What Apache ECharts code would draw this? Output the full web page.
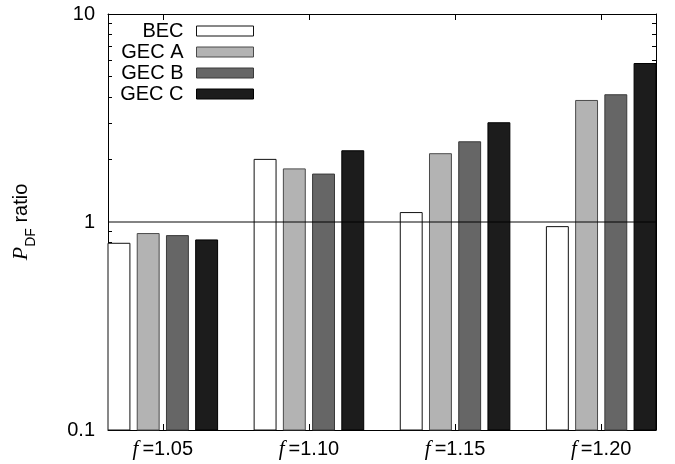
<!DOCTYPE html>
<html>
<head>
<meta charset="utf-8">
<title>PDF ratio</title>
<script src="https://cdn.jsdelivr.net/npm/echarts@6/dist/echarts.min.js"></script>
<style>
  html, body { margin: 0; padding: 0; background: #fff; }
  #chart { width: 675px; height: 464px; }
</style>
</head>
<body>
<div id="chart"></div>
<script>
// data
const categories = ['1.05', '1.10', '1.15', '1.20']
const seriesNames = ['BEC', 'GEC A', 'GEC B', 'GEC C']
const becValues = [0.79, 2.00, 1.11, 0.95]
const gecAValues = [0.88, 1.80, 2.13, 3.84]
const gecBValues = [0.86, 1.70, 2.43, 4.09]
const gecCValues = [0.82, 2.20, 3.00, 5.78]
const yLabelValues = [0.1, 1, 10]
const minorMultipliers = [2, 3, 4, 5, 6, 7, 8, 9]

const fills = ['#ffffff', '#b3b3b3', '#666666', '#1c1c1c']
const borders = ['#111111', '#4a4a4a', '#3a3a3a', '#000000']
const font = 'Liberation Sans, Arial, sans-serif'
const serif = 'Liberation Serif, Times New Roman, serif'

// minor ticks of the log axis, placed on a linear axis in decade units
const minorTickPos = []
;[-1, 0].forEach(d => minorMultipliers.forEach(m => minorTickPos.push(Math.log10(m) + d)))

const chart = echarts.init(document.getElementById('chart'), null, { renderer: 'canvas' })

function makeRenderItem(slot) {
  return function (params, api) {
    const top = api.coord([api.value(0), api.value(1)])
    const base = api.coord([api.value(0), 0.1])
    const band = api.size([1, 0])[0]
    const w = band * 0.15
    const cx = top[0] + (slot - 1.5) * band * 0.2
    return {
      type: 'rect',
      shape: { x: cx - w / 2, y: top[1], width: w, height: base[1] - top[1] },
      style: api.style()
    }
  }
}

const allValues = [becValues, gecAValues, gecBValues, gecCValues]

const gridRect = { left: 108, right: 19, top: 14, bottom: 34, outerBoundsMode: 'none' }
const blackLine = { show: true, onZero: false, lineStyle: { color: '#000', width: 1 } }

const option = {
  animation: false,
  backgroundColor: '#fff',
  grid: [Object.assign({}, gridRect), Object.assign({}, gridRect)],
  legend: {
    orient: 'vertical',
    align: 'right',
    right: 421,
    top: 21,
    padding: 0,
    itemWidth: 57,
    itemHeight: 10,
    itemGap: 1,
    icon: 'rect',
    textStyle: { fontFamily: font, fontSize: 20, color: '#000', lineHeight: 20, padding: [0, 8, 0, 0] },
    data: seriesNames.map((n, i) => ({
      name: n,
      itemStyle: { color: fills[i], borderColor: borders[i], borderWidth: 1 }
    }))
  },
  xAxis: [
    {
      type: 'value', gridIndex: 0, position: 'bottom',
      min: -0.375, max: 3.375,
      axisLine: blackLine,
      splitLine: { show: false },
      axisTick: { show: true, inside: true, length: 6, customValues: [0, 1, 2, 3], lineStyle: { color: '#000' } },
      axisLabel: {
        show: true, customValues: [0, 1, 2, 3], margin: 9,
        fontFamily: font, fontSize: 20, color: '#000',
        formatter: v => '{i|f}=' + categories[v],
        rich: { i: { fontFamily: serif, fontStyle: 'italic', fontSize: 21, color: '#000', padding: [0, 4, 0, 0] } }
      }
    },
    {
      type: 'value', gridIndex: 0, position: 'top',
      min: -0.375, max: 3.375,
      axisLine: blackLine,
      splitLine: { show: false },
      axisTick: { show: true, inside: true, length: 6, customValues: [0, 1, 2, 3], lineStyle: { color: '#000' } },
      axisLabel: { show: false }
    },
    {
      type: 'value', gridIndex: 1, min: -0.375, max: 3.375, show: false
    }
  ],
  yAxis: [
    {
      type: 'log', logBase: 10, gridIndex: 0, position: 'left',
      min: 0.1, max: 10,
      axisLine: blackLine,
      axisTick: { show: false },
      splitLine: { show: false },
      axisLabel: {
        margin: 13, fontFamily: font, fontSize: 20, color: '#000',
        formatter: v => {
          const hit = yLabelValues.find(t => Math.abs(t - v) < 1e-9)
          return hit === undefined ? '' : String(hit)
        }
      },
      name: '{p|P}{s|DF} ratio',
      nameLocation: 'middle',
      nameGap: 70,
      nameTextStyle: {
        fontFamily: font, fontSize: 20, color: '#000', lineHeight: 34,
        rich: {
          p: { fontFamily: serif, fontStyle: 'italic', fontSize: 22, color: '#000', lineHeight: 34 },
          s: { fontFamily: font, fontSize: 14, color: '#000', verticalAlign: 'bottom', lineHeight: 34 }
        }
      }
    },
    {
      type: 'value', gridIndex: 0, position: 'right',
      min: -1, max: 1,
      axisLine: blackLine,
      splitLine: { show: false },
      axisTick: { show: true, inside: true, length: 4, customValues: minorTickPos, lineStyle: { color: '#000' } },
      axisLabel: { show: false }
    },
    {
      type: 'value', gridIndex: 1, position: 'left',
      min: -1, max: 1,
      axisLine: { show: false, onZero: false },
      splitLine: { show: false },
      axisTick: { show: true, inside: true, length: 4, customValues: minorTickPos, lineStyle: { color: '#000' } },
      axisLabel: { show: false }
    }
  ],
  series: seriesNames.map((name, i) => ({
    name: name,
    type: 'custom',
    xAxisIndex: 0,
    yAxisIndex: 0,
    renderItem: makeRenderItem(i),
    itemStyle: { color: fills[i], borderColor: borders[i], borderWidth: 1 },
    encode: { x: 0, y: 1 },
    data: allValues[i].map((v, k) => [k, v]),
    markLine: i === seriesNames.length - 1 ? {
      silent: true,
      symbol: 'none',
      z: 10,
      label: { show: false },
      lineStyle: { color: 'rgba(0,0,0,0.65)', width: 1.5, type: 'solid' },
      data: [{ yAxis: 1 }]
    } : undefined
  }))
}

chart.setOption(option)
window.addEventListener('resize', () => chart.resize())
</script>
</body>
</html>
